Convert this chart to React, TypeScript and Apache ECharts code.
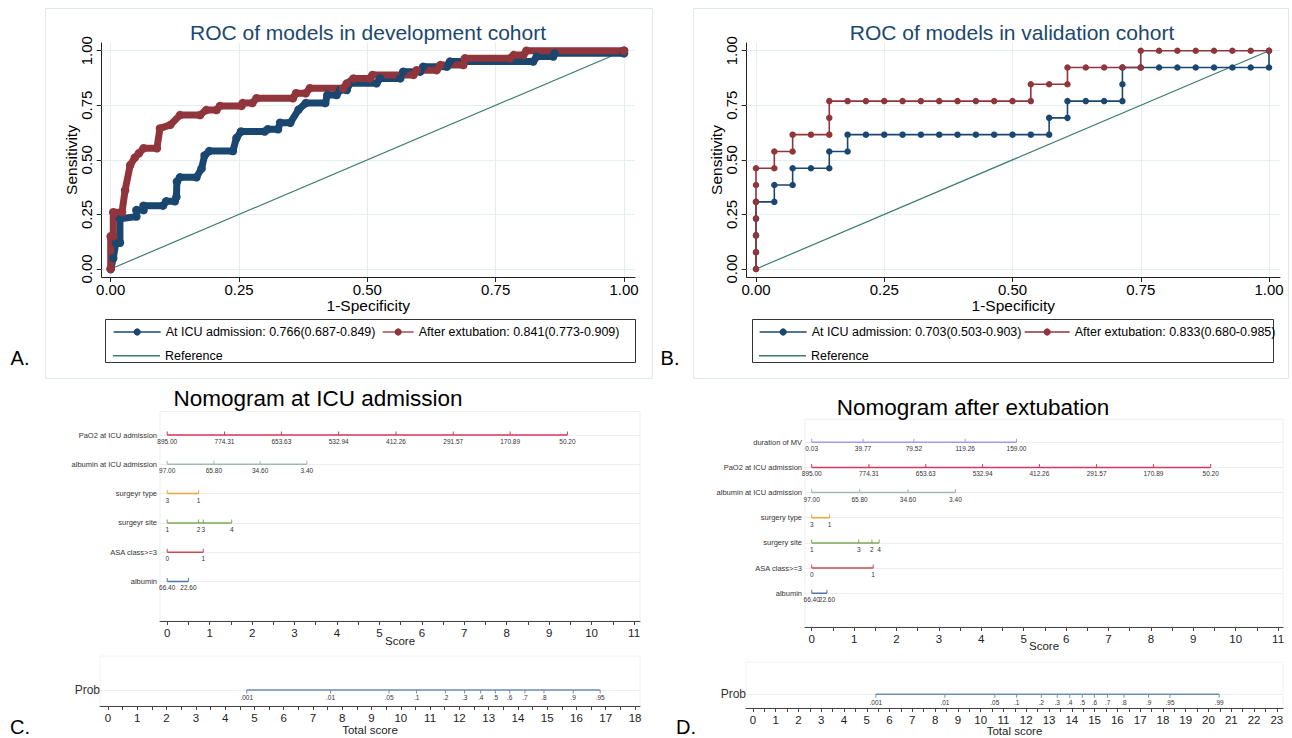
import React, { useEffect, useRef } from 'react';
import * as echarts from 'echarts';

const FONT = 'Liberation Sans, Arial, Helvetica, sans-serif';
const NAVY = '#1a476f';
const MAROON = '#90353b';
const REFC = '#3a7c6e';
const GRIDC = '#e4edef';

// ---------------- Panel A: ROC, development cohort ----------------
const ROC_TICKS = [0, 0.25, 0.5, 0.75, 1];
const refDiagonal = [[0, 0], [1, 1]];
const devIcu = [
  [0, 0], [0.005, 0.05], [0.01, 0.12], [0.018, 0.12], [0.018, 0.23], [0.05, 0.24], [0.05, 0.27], [0.064, 0.27],
  [0.064, 0.29], [0.102, 0.29], [0.108, 0.31], [0.125, 0.31], [0.128, 0.33], [0.129, 0.4], [0.135, 0.42],
  [0.167, 0.42], [0.177, 0.46], [0.183, 0.52], [0.192, 0.54], [0.238, 0.54], [0.245, 0.6], [0.254, 0.63],
  [0.3, 0.63], [0.306, 0.64], [0.326, 0.64], [0.33, 0.67], [0.35, 0.67], [0.366, 0.73], [0.38, 0.76],
  [0.418, 0.76], [0.422, 0.797], [0.44, 0.797], [0.447, 0.82], [0.46, 0.82], [0.466, 0.851], [0.518, 0.851],
  [0.525, 0.873], [0.564, 0.873], [0.57, 0.904], [0.603, 0.904], [0.609, 0.927], [0.655, 0.927], [0.661, 0.95],
  [0.823, 0.95], [0.83, 0.973], [0.862, 0.973], [0.865, 0.988], [1.0, 0.988], [1.0, 1.0],
];
const devExt = [
  [0, 0], [0, 0.15], [0.005, 0.15], [0.005, 0.26], [0.022, 0.26], [0.028, 0.36], [0.038, 0.476], [0.047, 0.51],
  [0.055, 0.53], [0.064, 0.553], [0.09, 0.553], [0.096, 0.644], [0.116, 0.66], [0.135, 0.705], [0.174, 0.705],
  [0.186, 0.728], [0.206, 0.728], [0.213, 0.747], [0.255, 0.747], [0.257, 0.76], [0.276, 0.76], [0.284, 0.782],
  [0.355, 0.782], [0.361, 0.805], [0.38, 0.805], [0.388, 0.828], [0.453, 0.828], [0.46, 0.85], [0.473, 0.873],
  [0.505, 0.873], [0.51, 0.889], [0.59, 0.889], [0.596, 0.911], [0.635, 0.911], [0.642, 0.934], [0.687, 0.934],
  [0.69, 0.965], [0.778, 0.965], [0.785, 0.98], [0.804, 0.98], [0.81, 1.0], [1.0, 1.0],
];
const legendA = ['At ICU admission: 0.766(0.687-0.849)', 'After extubation: 0.841(0.773-0.909)'];

// ---------------- Panel B: ROC, validation cohort (counts) ----------------
const VAL_NEG = 28;
const VAL_POS = 13;
const valIcuFp = [0, 0, 0, 0, 0, 1, 1, 2, 2, 3, 4, 4, 5, 5, 6, 7, 8, 9, 10, 11, 12, 13, 14, 15, 16, 16, 17, 17, 18, 19, 20, 20, 20, 21, 22, 23, 24, 25, 26, 27, 28, 28];
const valIcuTp = [0, 1, 2, 3, 4, 4, 5, 5, 6, 6, 6, 7, 7, 8, 8, 8, 8, 8, 8, 8, 8, 8, 8, 8, 8, 9, 9, 10, 10, 10, 10, 11, 12, 12, 12, 12, 12, 12, 12, 12, 12, 13];
const valExtFp = [0, 0, 0, 0, 0, 0, 0, 1, 1, 2, 2, 3, 4, 4, 4, 5, 6, 7, 8, 9, 10, 11, 12, 13, 14, 15, 15, 16, 17, 17, 18, 19, 20, 21, 21, 22, 23, 24, 25, 26, 27, 28];
const valExtTp = [0, 1, 2, 3, 4, 5, 6, 6, 7, 7, 8, 8, 8, 9, 10, 10, 10, 10, 10, 10, 10, 10, 10, 10, 10, 10, 11, 11, 11, 12, 12, 12, 12, 12, 13, 13, 13, 13, 13, 13, 13, 13];
const legendB = ['At ICU admission: 0.703(0.503-0.903)', 'After extubation: 0.833(0.680-0.985)'];

// ---------------- Panel C: nomogram at ICU admission ----------------
const nomoCRows = ['PaO2 at ICU admission', 'albumin at ICU admission', 'surgeyr type', 'surgeyr site', 'ASA class>=3', 'albumin'];
const nomoCLabels = [
  ['895.00', '774.31', '653.63', '532.94', '412.26', '291.57', '170.89', '50.20'],
  ['97.00', '65.80', '34.60', '3.40'],
  ['3', '1'],
  ['1', '2', '3', '4'],
  ['0', '1'],
  ['66.40', '22.60'],
];
const nomoCPoints = [
  [0, 1.35, 2.69, 4.04, 5.39, 6.74, 8.08, 9.43],
  [0, 1.1, 2.19, 3.29],
  [0, 0.74],
  [0, 0.74, 0.85, 1.52],
  [0, 0.85],
  [0, 0.5],
];
const nomoCColors = ['#d6365f', '#9fbab1', '#f3a33c', '#7fa656', '#c94a55', '#4f77ad'];
const probLabelsC = ['.001', '.01', '.05', '.1', '.2', '.3', '.4', '.5', '.6', '.7', '.8', '.9', '.95'];
const probPointsC = [4.74, 7.6, 9.6, 10.54, 11.53, 12.18, 12.73, 13.23, 13.72, 14.24, 14.89, 15.89, 16.81];
const scoreLabels = [0, 1, 2, 3, 4, 5, 6, 7, 8, 9, 10, 11];
const scoreTicks = [0, 0.5, 1, 1.5, 2, 2.5, 3, 3.5, 4, 4.5, 5, 5.5, 6, 6.5, 7, 7.5, 8, 8.5, 9, 9.5, 10, 10.5, 11];
const totalLabelsC = [0, 1, 2, 3, 4, 5, 6, 7, 8, 9, 10, 11, 12, 13, 14, 15, 16, 17, 18];
const totalTicksC = [0, 0.5, 1, 1.5, 2, 2.5, 3, 3.5, 4, 4.5, 5, 5.5, 6, 6.5, 7, 7.5, 8, 8.5, 9, 9.5, 10, 10.5, 11, 11.5, 12, 12.5, 13, 13.5, 14, 14.5, 15, 15.5, 16, 16.5, 17, 17.5, 18];

// ---------------- Panel D: nomogram after extubation ----------------
const nomoDRows = ['duration of MV', 'PaO2 at ICU admission', 'albumin at ICU admission', 'surgery type', 'surgery site', 'ASA class>=3', 'albumin'];
const nomoDLabels = [
  ['0.03', '39.77', '79.52', '119.26', '159.00'],
  ['895.00', '774.31', '653.63', '532.94', '412.26', '291.57', '170.89', '50.20'],
  ['97.00', '65.80', '34.60', '3.40'],
  ['3', '1'],
  ['1', '3', '2', '4'],
  ['0', '1'],
  ['66.40', '22.60'],
];
const nomoDPoints = [
  [0, 1.21, 2.41, 3.62, 4.83],
  [0, 1.35, 2.69, 4.03, 5.37, 6.72, 8.06, 9.41],
  [0, 1.13, 2.27, 3.39],
  [0, 0.42],
  [0, 1.11, 1.42, 1.59],
  [0, 1.45],
  [0, 0.36],
];
const nomoDColors = ['#a49be6', '#d6365f', '#9fbab1', '#f3a33c', '#7fa656', '#c94a55', '#4f77ad'];
const probLabelsD = ['.001', '.01', '.05', '.1', '.2', '.3', '.4', '.5', '.6', '.7', '.8', '.9', '.95', '.99'];
const probPointsD = [5.4, 8.43, 10.62, 11.58, 12.66, 13.36, 13.91, 14.46, 14.99, 15.57, 16.29, 17.37, 18.31, 20.47];
const totalLabelsD = [0, 1, 2, 3, 4, 5, 6, 7, 8, 9, 10, 11, 12, 13, 14, 15, 16, 17, 18, 19, 20, 21, 22, 23];
const totalTicksD = [0, 0.5, 1, 1.5, 2, 2.5, 3, 3.5, 4, 4.5, 5, 5.5, 6, 6.5, 7, 7.5, 8, 8.5, 9, 9.5, 10, 10.5, 11, 11.5, 12, 12.5, 13, 13.5, 14, 14.5, 15, 15.5, 16, 16.5, 17, 17.5, 18, 18.5, 19, 19.5, 20, 20.5, 21, 21.5, 22, 22.5, 23];

// ---------------------------------------------------------------
function rocXAxis(gridIndex: number, min: number, max: number) {
  return {
    gridIndex, type: 'value', min, max,
    name: '1-Specificity', nameLocation: 'middle', nameGap: 20, nameMoveOverlap: false,
    nameTextStyle: { fontSize: 15.5, color: '#000', fontFamily: FONT },
    axisLine: { show: true, onZero: false, lineStyle: { color: '#222', width: 1 } },
    axisTick: { show: true, customValues: ROC_TICKS, length: 5, lineStyle: { color: '#222' } },
    axisLabel: { show: true, customValues: ROC_TICKS, formatter: (v: number) => v.toFixed(2), fontSize: 15, color: '#000', margin: 5, fontFamily: FONT },
    splitLine: { show: false },
  };
}
function rocYAxis(gridIndex: number) {
  return {
    gridIndex, type: 'value', min: -0.03665, max: 1.0353,
    name: 'Sensitivity', nameLocation: 'middle', nameGap: 22, nameRotate: 90, nameMoveOverlap: false,
    nameTextStyle: { fontSize: 15.5, color: '#000', fontFamily: FONT },
    axisLine: { show: true, onZero: false, lineStyle: { color: '#222', width: 1 } },
    axisTick: { show: true, customValues: ROC_TICKS, length: 5, lineStyle: { color: '#222' } },
    axisLabel: { show: true, customValues: ROC_TICKS, rotate: 90, formatter: (v: number) => v.toFixed(2), fontSize: 15, color: '#000', margin: 8, fontFamily: FONT },
    splitLine: { show: false },
  };
}
function rocGridLines(idx: number) {
  return {
    type: 'line', name: 'Reference', xAxisIndex: idx, yAxisIndex: idx, data: refDiagonal,
    symbol: 'none', lineStyle: { color: REFC, width: 1.2 }, itemStyle: { color: REFC }, z: 7, silent: true,
    markLine: {
      silent: true, symbol: ['none', 'none'], label: { show: false },
      lineStyle: { color: GRIDC, width: 1, type: 'solid' },
      data: [...ROC_TICKS.map((v) => ({ xAxis: v })), ...ROC_TICKS.map((v) => ({ yAxis: v }))],
    },
  };
}
function rocCurve(idx: number, name: string, data: number[][], color: string, dense: boolean) {
  return {
    type: 'line', name, xAxisIndex: idx, yAxisIndex: idx, data,
    symbol: 'circle', symbolSize: dense ? 8.5 : 6.5, showAllSymbol: true,
    lineStyle: { color, width: dense ? 7 : 1.6 }, itemStyle: { color }, z: 10, silent: true,
  };
}
function nomoRow(xi: number, row: number, pts: number[], labs: string[], color: string, up: boolean) {
  return {
    type: 'line', xAxisIndex: xi, yAxisIndex: xi,
    data: pts.map((p) => [p, row]),
    symbol: 'rect', symbolSize: [1, 3.5], symbolOffset: [0, up ? -1.75 : 1.75], showAllSymbol: true,
    lineStyle: { color, width: 1.5 }, itemStyle: { color }, silent: true, z: 10,
    label: {
      show: true, position: 'bottom', distance: up ? 3 : 1,
      formatter: (p: any) => labs[p.dataIndex],
      fontSize: 6.5, color: '#333', fontFamily: FONT,
    },
  };
}
function faintRows(xi: number, n: number) {
  const data: any[] = [];
  for (let i = 0; i < n; i++) data.push({ yAxis: i });
  return {
    type: 'line', xAxisIndex: xi, yAxisIndex: xi, data: [], silent: true, z: 1,
    markLine: { silent: true, symbol: ['none', 'none'], label: { show: false }, lineStyle: { color: '#eeeeee', width: 1, type: 'solid' }, data },
  };
}
function scoreAxis(gridIndex: number, min: number, max: number, labels: number[], ticks: number[], name: string, labelSize: number, nameGap: number) {
  return {
    gridIndex, type: 'value', min, max, position: 'bottom',
    name, nameLocation: 'middle', nameGap, nameMoveOverlap: false,
    nameTextStyle: { fontSize: labelSize, color: '#222', fontFamily: FONT },
    axisLine: { show: true, onZero: false, lineStyle: { color: '#444', width: 1 } },
    axisTick: { show: true, customValues: ticks, length: 4, lineStyle: { color: '#444' } },
    axisLabel: { show: true, customValues: labels, formatter: (v: number) => String(Math.round(v)), fontSize: labelSize, color: '#222', margin: 6, fontFamily: FONT },
    splitLine: { show: false },
  };
}
function rowYAxis(gridIndex: number, min: number, max: number, rows: string[], size: number, margin: number) {
  return {
    gridIndex, type: 'value', inverse: true, min, max,
    axisLine: { show: false }, axisTick: { show: false }, splitLine: { show: false },
    axisLabel: {
      show: true, customValues: rows.map((_, i) => i), formatter: (v: number) => rows[Math.round(v)] || '',
      fontSize: size, color: '#333', margin, fontFamily: FONT,
    },
  };
}
function txt(text: string, x: number, y: number, size: number, color = '#000', align = 'center') {
  return {
    type: 'text', x, y, silent: true,
    style: { text, fill: color, font: `${size}px ${FONT}`, textAlign: align, textVerticalAlign: 'middle', align, verticalAlign: 'middle' },
  };
}

const App = () => {
  const ref = useRef<HTMLDivElement>(null);
  useEffect(() => {
    const chart = echarts.init(ref.current!, null, { renderer: 'svg' });
    const valIcu = valIcuFp.map((fp, i) => [fp / VAL_NEG, valIcuTp[i] / VAL_POS]);
    const valExt = valExtFp.map((fp, i) => [fp / VAL_NEG, valExtTp[i] / VAL_POS]);

    const series: any[] = [
      rocGridLines(0),
      rocCurve(0, legendA[0], devIcu, NAVY, true),
      rocCurve(0, legendA[1], devExt, MAROON, true),
      rocGridLines(1),
      rocCurve(1, legendB[0], valIcu, NAVY, false),
      rocCurve(1, legendB[1], valExt, MAROON, false),
      faintRows(2, nomoCRows.length),
      faintRows(3, 1),
      faintRows(4, nomoDRows.length),
      faintRows(5, 1),
    ];
    nomoCRows.forEach((_, i) => series.push(nomoRow(2, i, nomoCPoints[i], nomoCLabels[i], nomoCColors[i], true)));
    series.push(nomoRow(3, 0, probPointsC, probLabelsC, '#6e8db3', false));
    nomoDRows.forEach((_, i) => series.push(nomoRow(4, i, nomoDPoints[i], nomoDLabels[i], nomoDColors[i], true)));
    series.push(nomoRow(5, 0, probPointsD, probLabelsD, '#6e8db3', false));

    const legendCommon = {
      orient: 'horizontal', padding: 0, itemGap: 10, selectedMode: false,
      textStyle: { fontSize: 12.5, color: '#000', fontFamily: FONT },
    };
    const symLegend = { itemHeight: 9, lineStyle: { width: 1.3 }, itemStyle: { borderWidth: 0 } };
    const refLegend = { itemWidth: 47, itemHeight: 1.4 };

    const option: any = {
      animation: false,
      textStyle: { fontFamily: FONT },
      grid: [
        { left: 101.7, top: 43, width: 533.3, height: 234 },
        { left: 746.7, top: 43, width: 533.3, height: 234 },
        { left: 160, top: 411.6, width: 480, height: 209.4, show: true, borderColor: '#efefef', borderWidth: 1 },
        { left: 100, top: 656, width: 540, height: 50, show: true, borderColor: '#f2f2f2', borderWidth: 1 },
        { left: 805, top: 419.3, width: 478, height: 207.7, show: true, borderColor: '#efefef', borderWidth: 1 },
        { left: 746, top: 662, width: 537, height: 50, show: true, borderColor: '#f2f2f2', borderWidth: 1 },
      ],
      xAxis: [
        rocXAxis(0, -0.01753, 1.02143),
        rocXAxis(1, -0.01813, 1.02144),
        scoreAxis(2, -0.1697, 11.14, scoreLabels, scoreTicks, 'Score', 11.5, 14),
        scoreAxis(3, -0.273, 18.17, totalLabelsC, totalTicksC, 'Total score', 11.5, 18),
        scoreAxis(4, -0.158, 11.116, scoreLabels, scoreTicks, 'Score', 11.5, 13),
        scoreAxis(5, -0.3, 23.27, totalLabelsD, totalTicksD, 'Total score', 11.5, 17),
      ],
      yAxis: [
        rocYAxis(0),
        rocYAxis(1),
        rowYAxis(2, -0.8, 6.35, nomoCRows, 7.5, 3),
        rowYAxis(3, -1, 0.4706, ['Prob'], 12, 0),
        rowYAxis(4, -0.9145, 7.344, nomoDRows, 7.5, 3),
        rowYAxis(5, -1, 0.4286, ['Prob'], 12, 0),
      ],
      legend: [
        { ...legendCommon, ...symLegend, data: [legendA[0]], left: 113, top: 325.5, itemWidth: 47 },
        { ...legendCommon, ...symLegend, data: [legendA[1]], left: 382, top: 325.5, itemWidth: 31 },
        { ...legendCommon, ...refLegend, data: [{ name: 'Reference', icon: 'rect' }], left: 113, top: 349.3 },
        { ...legendCommon, ...symLegend, data: [legendB[0]], left: 759, top: 325.5, itemWidth: 47 },
        { ...legendCommon, ...symLegend, data: [legendB[1]], left: 1024, top: 325.5, itemWidth: 45 },
        { ...legendCommon, ...refLegend, data: [{ name: 'Reference', icon: 'rect' }], left: 759, top: 349.3 },
      ],
      graphic: [
        { type: 'rect', silent: true, z: -10, shape: { x: 45.5, y: 8.5, width: 607, height: 370 }, style: { fill: 'none', stroke: '#dfe8eb', lineWidth: 1 } },
        { type: 'rect', silent: true, z: -10, shape: { x: 693.5, y: 8.5, width: 595, height: 370 }, style: { fill: 'none', stroke: '#dfe8eb', lineWidth: 1 } },
        { type: 'rect', silent: true, shape: { x: 105.5, y: 319.5, width: 530, height: 43 }, style: { fill: 'none', stroke: '#333', lineWidth: 1 } },
        { type: 'rect', silent: true, shape: { x: 752.5, y: 319.5, width: 521, height: 43 }, style: { fill: 'none', stroke: '#333', lineWidth: 1 } },
        txt('ROC of models in development cohort', 368, 32, 21, NAVY),
        txt('ROC of models in validation cohort', 1012, 32, 21, NAVY),
        txt('Nomogram at ICU admission', 318, 398, 22.5),
        txt('Nomogram after extubation', 973, 407, 22.5),
        txt('A.', 20, 358, 20),
        txt('B.', 670, 358, 20),
        txt('C.', 20, 727, 20),
        txt('D.', 686, 727, 20),
      ],
      series,
    };
    chart.setOption(option);
    return () => chart.dispose();
  }, []);
  return <div ref={ref} style={{ position: 'absolute', left: 0, top: 0, width: 1292, height: 738, background: '#fff' }} />;
};

export default App;
